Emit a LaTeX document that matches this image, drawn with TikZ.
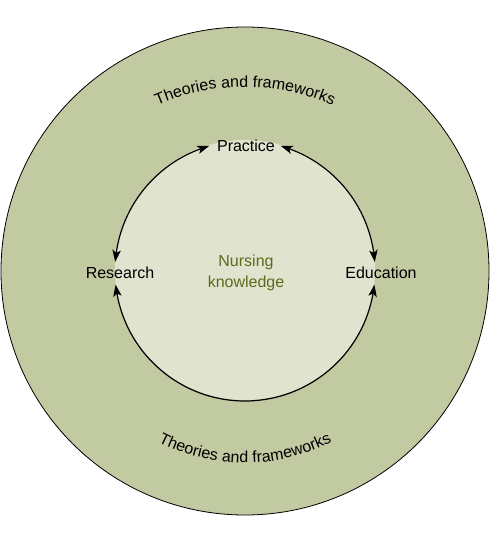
\documentclass[tikz,border=0pt]{standalone}
\usepackage{fontspec}
\setmainfont{Liberation Sans}
\usetikzlibrary{arrows.meta,bending,calc,decorations.text}
\definecolor{outergreen}{RGB}{194,202,162}
\definecolor{innergreen}{RGB}{224,227,206}
\definecolor{textgreen}{RGB}{94,106,30}

\begin{document}
\begin{tikzpicture}[x=1pt, y=1pt,
	label/.style={font=\fontsize{16}{19}\selectfont, inner sep=0pt},
	cycle/.style={line width=1.2pt, {Stealth[length=12pt,width=8.5pt,inset=3pt,bend]}-{Stealth[length=12pt,width=8.5pt,inset=3pt,bend]}},
	arctext/.style={decorate, decoration={text along path, text align=center,
		text={|\fontsize{16}{19}\selectfont|Theories and frameworks}}}]
			%%%%% START %%%%%
			\useasboundingbox (-245, -269) rectangle (245, 271);
			
			% outer ring and inner core
			\draw[line width=0.8pt, fill=outergreen] (0, 0) circle (244);
			\fill[innergreen] (0, 1) circle (130);
			
			% curved labels in the ring
			\path[arctext] ($(0, -35)+(130:219)$) arc (130:50:219);
			\path[arctext] (220:192) arc (220:320:192);
			
			% labels
			\node[label] (practice) at (1, 125) {Practice};
			\node[label] (research) at (-125, -2) {Research};
			\node[label] (education) at (136, -2) {Education};
			\node[label, align=center, text=textgreen, font=\fontsize{16}{21}\selectfont] (core) at (1, -2) {Nursing\\knowledge};
			
			% ends of the arrows on the core
			\coordinate (p-left) at (106:130);
			\coordinate (p-right) at (74:130);
			\coordinate (r-top) at (176:130);
			\coordinate (r-bottom) at (186:130);
			\coordinate (e-top) at (4:130);
			\coordinate (e-bottom) at (-6:130);
			
			\draw[cycle] (p-left) arc (106:176:130);
			\draw[cycle] (p-right) arc (74:4:130);
			\draw[cycle] (r-bottom) arc (186:354:130);
			%%%%% END %%%%%
\end{tikzpicture}
\end{document}
